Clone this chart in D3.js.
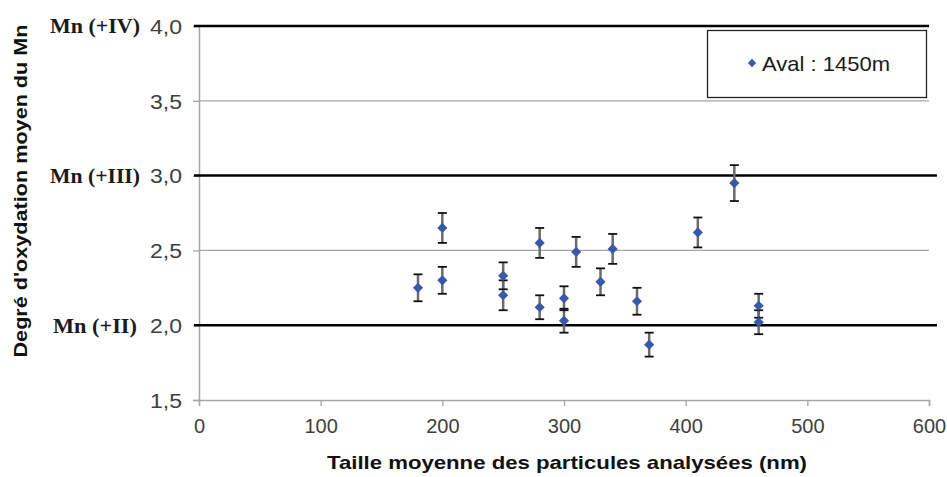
<!DOCTYPE html>
<html><head><meta charset="utf-8">
<script src="https://cdn.jsdelivr.net/npm/d3@7"></script>
<style>body{margin:0;background:#fff}svg{display:block}</style>
</head><body><svg id="c" width="947" height="477"></svg>
<script>
const sizes = [180,200,200,250,250,280,280,300,300,310,330,340,360,370,410,440,460,460];
const oxid  = [2.25,2.65,2.30,2.33,2.20,2.55,2.12,2.18,2.03,2.49,2.29,2.51,2.16,1.87,2.62,2.95,2.13,2.02];
const errs  = [0.09,0.10,0.09,0.09,0.10,0.10,0.08,0.08,0.08,0.10,0.09,0.10,0.09,0.08,0.10,0.12,0.08,0.08];
const xTicks = [0,100,200,300,400,500,600];
const yTicks = [1.5,2.0,2.5,3.0,3.5,4.0];
const refLevels = [2.0,3.0,4.0];
const refLabels = ["Mn (+II)","Mn (+III)","Mn (+IV)"];
const seriesName = "Aval : 1450m";
const xTitle = "Taille moyenne des particules analysées (nm)";
const yTitle = "Degré d'oxydation moyen du Mn";

const svg = d3.select("#c");
const L=199, R=929, T=26, B=400;
const x = d3.scaleLinear().domain([0,600]).range([L,R]);
const y = d3.scaleLinear().domain([1.5,4.0]).range([B,T]);
const fmt = d => d.toFixed(1).replace(".",",");
const sans = "Liberation Sans, Arial, sans-serif";

// gray gridlines
svg.append("g").selectAll("line").data(yTicks.filter(v=>!refLevels.includes(v) && v>1.5)).join("line")
  .attr("x1",L).attr("x2",R).attr("y1",d=>y(d)).attr("y2",d=>y(d))
  .attr("stroke","#a6a6a6").attr("stroke-width",1.3);

// y axis
const ya = svg.append("g").attr("transform",`translate(${L},0)`)
  .call(d3.axisLeft(y).tickValues(yTicks).tickFormat(fmt).tickSize(6).tickPadding(11));
ya.select(".domain").attr("stroke","#a6a6a6").attr("stroke-width",1.5);
ya.selectAll(".tick line").attr("stroke","#a6a6a6").attr("stroke-width",1.3);
ya.selectAll("text").attr("font-family",sans).attr("font-size",20)
  .attr("fill","#404040").attr("dy","0.36em")
  .attr("textLength",32).attr("lengthAdjust","spacingAndGlyphs");

// x axis
const xa = svg.append("g").attr("transform",`translate(0,${B})`)
  .call(d3.axisBottom(x).tickValues(xTicks).tickFormat(d=>d).tickSize(6).tickPadding(13));
xa.select(".domain").attr("stroke","#a6a6a6").attr("stroke-width",1.5);
xa.selectAll(".tick line").attr("stroke","#a6a6a6").attr("stroke-width",1.3);
xa.selectAll("text").attr("font-family",sans).attr("font-size",20)
  .attr("fill","#404040").attr("dy","0.71em");

// black reference lines
svg.append("g").selectAll("line").data(refLevels).join("line")
  .attr("x1",L-5).attr("x2",d=>d===4.0?R:R+8).attr("y1",d=>y(d)).attr("y2",d=>y(d))
  .attr("stroke","#000").attr("stroke-width",2.5);

// ref labels
const refW = [84,90,90];
svg.append("g").selectAll("text").data(refLevels).join("text")
  .attr("x",95).attr("y",d=>y(d)).attr("dy","0.35em").attr("text-anchor","middle")
  .attr("font-family","Liberation Serif, Times New Roman, serif").attr("font-weight","bold")
  .attr("font-size",21).attr("fill","#1a1a1a")
  .attr("textLength",(d,i)=>refW[i]).attr("lengthAdjust","spacingAndGlyphs")
  .text((d,i)=>refLabels[i]);

// data
const pts = sizes.map((s,i)=>({x:s,y:oxid[i],e:errs[i]}));
const eb = svg.append("g");
eb.selectAll("line.v").data(pts).join("line").attr("class","v")
  .attr("x1",d=>x(d.x)).attr("x2",d=>x(d.x)).attr("y1",d=>y(d.y+d.e)).attr("y2",d=>y(d.y-d.e))
  .attr("stroke","#6b6b6b").attr("stroke-width",2.5);
eb.selectAll("line.t").data(pts).join("line").attr("class","t")
  .attr("x1",d=>x(d.x)-4.5).attr("x2",d=>x(d.x)+4.5).attr("y1",d=>y(d.y+d.e)).attr("y2",d=>y(d.y+d.e))
  .attr("stroke","#111").attr("stroke-width",1.8);
eb.selectAll("line.b").data(pts).join("line").attr("class","b")
  .attr("x1",d=>x(d.x)-4.5).attr("x2",d=>x(d.x)+4.5).attr("y1",d=>y(d.y-d.e)).attr("y2",d=>y(d.y-d.e))
  .attr("stroke","#111").attr("stroke-width",1.8);

const diamond = d3.symbol().type(d3.symbolDiamond2).size(66);
svg.append("g").selectAll("path").data(pts).join("path")
  .attr("d",diamond).attr("transform",d=>`translate(${x(d.x)},${y(d.y)})`)
  .attr("fill","#3a58aa");

// legend
const lg = svg.append("g");
lg.append("rect").attr("x",707.5).attr("y",30.5).attr("width",219).attr("height",67)
  .attr("fill","#fff").attr("stroke","#222").attr("stroke-width",1.3);
lg.append("path").attr("d",d3.symbol().type(d3.symbolDiamond2).size(44)).attr("transform","translate(752,63)").attr("fill","#3a58aa");
lg.append("text").attr("x",762).attr("y",63).attr("dy","0.36em")
  .attr("font-family",sans).attr("font-size",21).attr("fill","#1a1a1a")
  .attr("textLength",128).attr("lengthAdjust","spacingAndGlyphs").text(seriesName);

// titles
svg.append("text").attr("x",567).attr("y",469).attr("text-anchor","middle")
  .attr("font-family",sans).attr("font-weight","bold").attr("font-size",19)
  .attr("fill","#111").attr("textLength",480).attr("lengthAdjust","spacingAndGlyphs").text(xTitle);
svg.append("text").attr("transform","translate(27,191) rotate(-90)").attr("text-anchor","middle")
  .attr("font-family",sans).attr("font-weight","bold").attr("font-size",19)
  .attr("fill","#111").attr("textLength",333).attr("lengthAdjust","spacingAndGlyphs").text(yTitle);
</script></body></html>
